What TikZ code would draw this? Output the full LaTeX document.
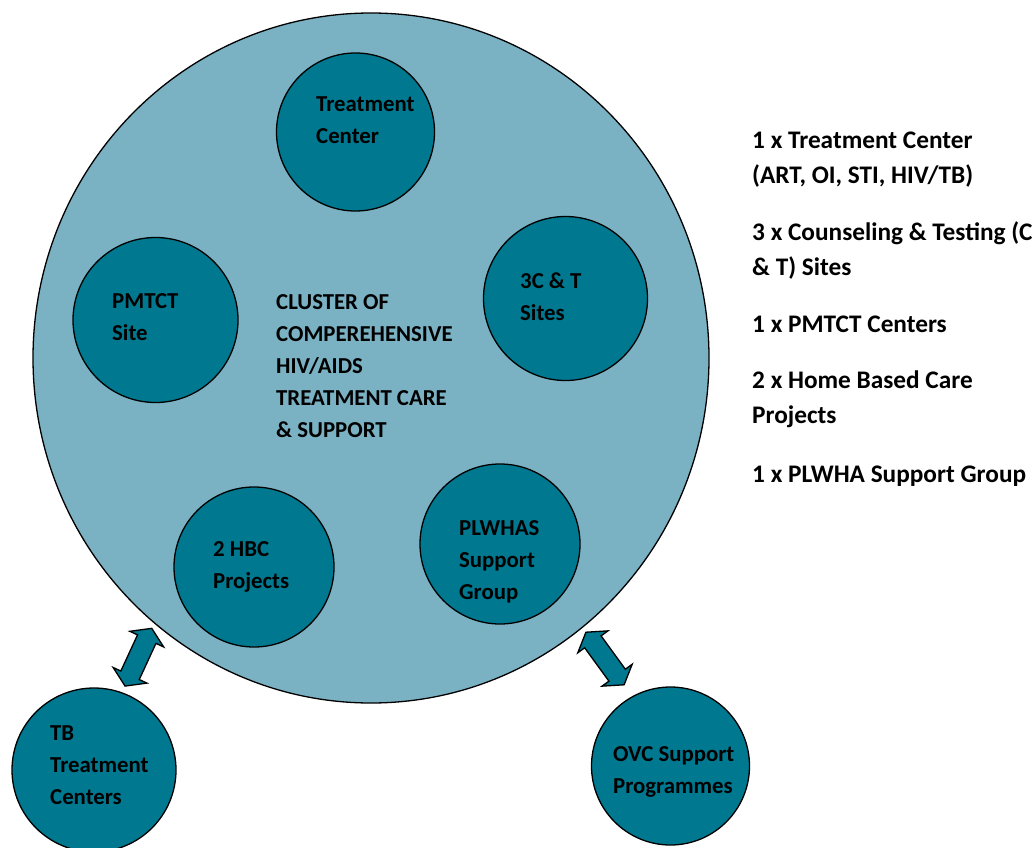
\documentclass[tikz,border=0pt]{standalone}
\usepackage{fontspec}
\setmainfont{Carlito}[BoldFont={Carlito Bold}]
\usetikzlibrary{shapes.geometric,shapes.arrows}
\definecolor{lightblue}{RGB}{122,178,196}
\definecolor{darkteal}{RGB}{0,120,143}
\begin{document}
\begin{tikzpicture}[x=1pt,y=-1pt,
 outercircle/.style={ellipse, draw=black, line width=1.3pt, fill=lightblue, inner sep=0},
 innercircle/.style={circle, draw=black, line width=1.3pt, fill=darkteal, inner sep=0},
 lbl/.style={anchor=base west, inner sep=0, align=left, font=\bfseries\fontsize{22.8}{32}\selectfont},
 rlbl/.style={anchor=base west, inner sep=0, align=left, font=\bfseries\fontsize{25.3}{35.5}\selectfont},
 dblarrow/.style={double arrow, draw=black, line width=1.3pt, fill=darkteal, inner xsep=0, inner ysep=9.5,
   minimum width=36, double arrow head extend=8.5, double arrow tip angle=115}]
\useasboundingbox (0,0) rectangle (1033,848);

% main cluster
\node[outercircle, minimum width=676, minimum height=690] (big) at (371,358) {};

% inner circles
\node[innercircle, minimum size=158] (tc) at (355.5,132) {};
\node[innercircle, minimum size=164] (cts) at (565.5,298.5) {};
\node[innercircle, minimum size=165] (pm) at (155.5,320) {};
\node[innercircle, minimum size=160] (hbc) at (254,567) {};
\node[innercircle, minimum size=160] (plw) at (500,544) {};

% outer circles
\node[innercircle, minimum size=164] (tb) at (94,770) {};
\node[innercircle, minimum size=158] (ovc) at (670.5,766) {};

% double arrows
\node[dblarrow, minimum height=63.6, rotate=65.2] (arrL) at (138.4,657.2) {};
\node[dblarrow, minimum height=65, rotate=-54] (arrR) at (605,658.5) {};

% texts (anchor = baseline of the last line)
\node[lbl] (bigtxt) at (276,437) {CLUSTER OF\\COMPEREHENSIVE\\HIV/AIDS\\TREATMENT CARE\\\& SUPPORT};
\node[lbl] (tctxt) at (316,143) {Treatment\\Center};
\node[lbl] (ctstxt) at (520,320) {3C \& T\\Sites};
\node[lbl] (pmtxt) at (112,340) {PMTCT\\Site};
\node[lbl] (hbctxt) at (213,588) {2 HBC\\Projects};
\node[lbl] (plwtxt) at (459,599) {PLWHAS\\Support\\Group};
\node[lbl] (tbtxt) at (50,804) {TB\\Treatment\\Centers};
\node[lbl] (ovctxt) at (613,793) {OVC Support\\Programmes};

% legend
\node[rlbl] (l1) at (752,183.5) {1 x Treatment Center\\(ART, OI, STI, HIV/TB)};
\node[rlbl] (l2) at (752,275.5) {3 x Counseling \& Testing (C\\\& T) Sites};
\node[rlbl] (l3) at (752,332) {1 x PMTCT Centers};
\node[rlbl] (l4) at (752,423.5) {2 x Home Based Care\\Projects};
\node[rlbl] (l5) at (752,482) {1 x PLWHA Support Group};
\end{tikzpicture}
\end{document}
